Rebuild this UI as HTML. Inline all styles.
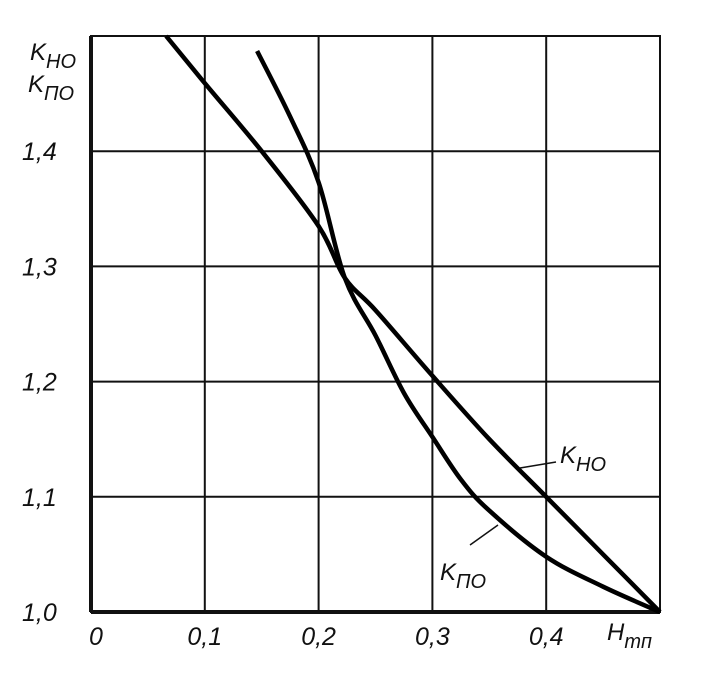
<!DOCTYPE html>
<html><head><meta charset="utf-8"><style>
html,body{margin:0;padding:0;background:#fff;}
svg{display:block;}
text{font-family:"Liberation Sans",sans-serif;font-style:italic;fill:#111;}
</style></head><body>
<svg id="chart" width="715" height="684" viewBox="0 0 715 684" xmlns="http://www.w3.org/2000/svg">
<g id="grid"></g>
<g id="series"></g>
<g id="labels"></g>
</svg>
<script>
const xTicks=[0,0.1,0.2,0.3,0.4];
const xTickLabels=["0","0,1","0,2","0,3","0,4"];
const yTicks=[1.0,1.1,1.2,1.3,1.4];
const yTickLabels=["1,0","1,1","1,2","1,3","1,4"];
const khoX=[0.066,0.1,0.15,0.2,0.223,0.25,0.3,0.35,0.4,0.45,0.5];
const khoY=[1.5,1.459,1.40,1.335,1.29,1.262,1.205,1.15,1.10,1.05,1.0];
const kpoX=[0.146,0.175,0.2,0.223,0.25,0.275,0.3,0.325,0.35,0.4,0.45,0.5];
const kpoY=[1.487,1.43,1.373,1.29,1.24,1.19,1.152,1.115,1.088,1.048,1.022,1.0];
const X=v=>91+(v/0.5)*569;
const Y=v=>612-((v-1.0)/0.5)*576;
const NS="http://www.w3.org/2000/svg";
function mk(tag,parent,attrs){const e=document.createElementNS(NS,tag);for(const k in attrs)e.setAttribute(k,attrs[k]);parent.appendChild(e);return e;}
const grid=document.getElementById('grid');
const series=document.getElementById('series');
const labels=document.getElementById('labels');
[0.1,0.2,0.3,0.4].forEach(v=>{
 const l=mk('line',grid,{x1:X(v),x2:X(v),y1:Y(1.5),y2:Y(1.0),stroke:'#111','stroke-width':2});
 
 
});
[1.1,1.2,1.3,1.4].forEach(v=>{
 const l=mk('line',grid,{x1:X(0),x2:X(0.5),y1:Y(v),y2:Y(v),stroke:'#111','stroke-width':2});
 
 
});
const fr=mk('rect',grid,{x:X(0),y:Y(1.5),width:X(0.5)-X(0),height:Y(1.0)-Y(1.5),fill:'none',stroke:'#111','stroke-width':2});


const ax1=mk('line',grid,{x1:X(0),x2:X(0),y1:Y(1.5),y2:Y(1.0),stroke:'#111','stroke-width':4});


const ax2=mk('line',grid,{x1:X(0),x2:X(0.5),y1:Y(1.0),y2:Y(1.0),stroke:'#111','stroke-width':4});


function path(xs,ys,name){
 const P=xs.map((x,i)=>[X(x),Y(ys[i])]);
 let d='M'+P[0][0].toFixed(1)+','+P[0][1].toFixed(1);
 for(let i=0;i<P.length-1;i++){
  const p0=P[Math.max(0,i-1)],p1=P[i],p2=P[i+1],p3=P[Math.min(P.length-1,i+2)];
  const c1=[p1[0]+(p2[0]-p0[0])/6,p1[1]+(p2[1]-p0[1])/6];
  const c2=[p2[0]-(p3[0]-p1[0])/6,p2[1]-(p3[1]-p1[1])/6];
  d+=' C'+c1[0].toFixed(1)+','+c1[1].toFixed(1)+' '+c2[0].toFixed(1)+','+c2[1].toFixed(1)+' '+p2[0].toFixed(1)+','+p2[1].toFixed(1);
 }
 const p=mk('path',series,{d:d,fill:'none',stroke:'#000','stroke-width':4.5,'stroke-linejoin':'round'});
 
 
}
path(khoX,khoY,'kho-line');
path(kpoX,kpoY,'kpo-line');
xTicks.forEach((v,i)=>{
 const t=mk('text',labels,{x:X(v)+(i?0:-2),y:645,'font-size':25,'text-anchor':i?'middle':'start'});
 t.textContent=xTickLabels[i];
 
 
});
yTicks.forEach((v,i)=>{
 const t=mk('text',labels,{x:22,y:Y(v)+9,'font-size':25});
 t.textContent=yTickLabels[i];
 
 
});
function lab(x,y,main,sub,name){
 const t=mk('text',labels,{x:x,y:y,'font-size':24});
 t.textContent=main;
 const s=mk('tspan',t,{dy:8,'font-size':20});
 s.textContent=sub;
 
 
}
lab(30,60,'K','HO','y-axis-title-kho');
lab(28,92,'K','ПО','y-axis-title-kpo');
lab(560,463,'K','HO','kho-label');
lab(440,580,'K','ПО','kpo-label');
lab(607,640,'H','тп','x-axis-title');
const c1=mk('line',labels,{x1:520,y1:468,x2:556,y2:462,stroke:'#111','stroke-width':1.5});


const c2=mk('line',labels,{x1:470,y1:545,x2:498,y2:525,stroke:'#111','stroke-width':1.5});


</script>
</body></html>
